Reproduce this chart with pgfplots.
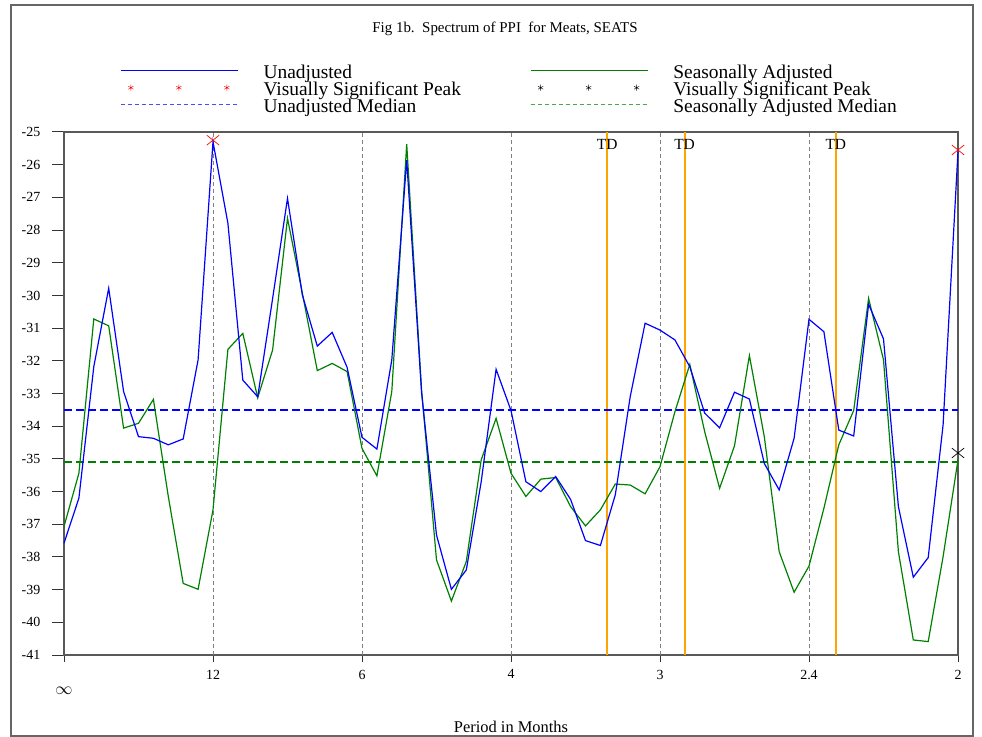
\documentclass[border=0pt]{standalone}
\usepackage{pgfplots}
\pgfplotsset{compat=1.18}
\usepackage{pgfplotstable}
\usepackage{fontspec}
\setmainfont{Liberation Serif}

\definecolor{tdorange}{RGB}{255,165,0}
\definecolor{sagreen}{RGB}{0,128,0}
\definecolor{uablue}{RGB}{0,0,255}

% spectrum, frequency index k = 0..60 (k/120 cycles per month)
\pgfplotstableread{
k   ua      sa
0   -37.58  -37.07
1   -36.20  -35.44
2   -32.18  -30.72
3   -29.78  -30.93
4   -32.94  -34.06
5   -34.32  -33.91
6   -34.37  -33.18
7   -34.57  -36.15
8   -34.39  -38.81
9   -31.97  -38.99
10  -25.30  -36.56
11  -27.79  -31.65
12  -32.59  -31.16
13  -33.10  -33.13
14  -30.10  -31.67
15  -27.03  -27.64
16  -29.99  -29.94
17  -31.55  -32.30
18  -31.13  -32.08
19  -32.20  -32.33
20  -34.34  -34.68
21  -34.70  -35.52
22  -31.97  -32.94
23  -25.86  -25.37
24  -32.98  -32.90
25  -37.33  -38.09
26  -38.99  -39.35
27  -38.40  -38.14
28  -35.70  -35.03
29  -32.26  -33.76
30  -33.52  -35.44
31  -35.70  -36.15
32  -36.00  -35.62
33  -35.54  -35.57
34  -36.24  -36.46
35  -37.50  -37.05
36  -37.65  -36.56
37  -36.10  -35.77
38  -33.10  -35.80
39  -30.85  -36.07
40  -31.06  -35.24
41  -31.36  -33.56
42  -32.18  -32.11
43  -33.60  -34.17
44  -34.05  -35.90
45  -32.96  -34.60
46  -33.17  -31.84
47  -35.14  -34.32
48  -35.95  -37.84
49  -34.37  -39.08
50  -30.73  -38.28
51  -31.11  -36.51
52  -34.12  -34.57
53  -34.30  -33.52
54  -30.27  -30.09
55  -31.33  -31.97
56  -36.46  -37.84
57  -38.62  -40.54
58  -38.02  -40.59
59  -33.96  -37.99
60  -25.60  -35.03
}\spec

\begin{document}
\begin{tikzpicture}
\path[use as bounding box] (0bp,0bp) rectangle (982bp,737bp);
\draw[black!60, line width=1.5bp] (11bp,1bp) rectangle (973bp,732bp);
\begin{axis}[
    at={(64bp,82bp)}, anchor=south west,
    scale only axis, width=894bp, height=523bp,
    xmin=0, xmax=60, ymin=-41, ymax=-25,
    clip=false,
    axis line style={black!65, line width=1.2bp},
    xtick={0,10,...,60},
    xticklabels={,12,6,4,3,2.4,2},
    ytick={-41,-40,...,-25},
    xtick pos=bottom, ytick pos=left,
    tick align=outside,
    xtick style={black!80, line width=1bp, /pgfplots/major tick length=7bp},
    ytick style={black!80, line width=1bp, /pgfplots/major tick length=12bp},
    ticklabel style={font=\fontsize{14}{14}\selectfont},
    yticklabel style={xshift=-16bp},
    xticklabel style={yshift=-7bp},
    /pgf/number format/assume math mode=true,
    title={Fig 1b.\ \ Spectrum of PPI\ \ for Meats, SEATS},
    title style={font=\fontsize{15}{15}\selectfont, at={(0.5,1)}, anchor=base, yshift=94bp, xshift=-6bp},
    xlabel={Period in Months},
    xlabel style={font=\fontsize{16.5}{16.5}\selectfont, at={(0.5,0)}, anchor=base, yshift=-77bp},
    legend columns=2,
    legend cell align=left,
    legend style={draw=none, fill=none, inner sep=0pt, at={(0.0626,1)}, anchor=north west, yshift=66.5bp,
        font=\fontsize{19.5}{17}\selectfont, row sep=0pt,
        nodes={inner sep=0pt, text height=12.5bp, text depth=4.5bp},
        /tikz/every odd column/.append style={column sep=25bp},
        /tikz/every even column/.append style={column sep=69bp}},
]
% legend entries
\addlegendimage{legend image code/.code={\draw[uablue, line width=1bp] (0bp,3.5bp) -- (117bp,3.5bp);}}
\addlegendentry{Unadjusted}
\addlegendimage{legend image code/.code={\draw[sagreen, line width=1bp] (0bp,3.5bp) -- (117bp,3.5bp);}}
\addlegendentry{Seasonally Adjusted}
\addlegendimage{legend image code/.code={\draw[red] plot[only marks, mark=asterisk, mark size=3bp] coordinates {(10bp,3.5bp) (58bp,3.5bp) (106bp,3.5bp)};}}
\addlegendentry{Visually Significant Peak}
\addlegendimage{legend image code/.code={\draw[black] plot[only marks, mark=asterisk, mark size=3bp] coordinates {(10bp,3.5bp) (58bp,3.5bp) (106bp,3.5bp)};}}
\addlegendentry{Visually Significant Peak}
\addlegendimage{legend image code/.code={\draw[uablue!70, line width=1.4bp, dash pattern=on 4bp off 3bp] (0bp,3.5bp) -- (117bp,3.5bp);}}
\addlegendentry{Unadjusted Median}
\addlegendimage{legend image code/.code={\draw[sagreen!70, line width=1.4bp, dash pattern=on 4bp off 3bp] (0bp,3.5bp) -- (117bp,3.5bp);}}
\addlegendentry{Seasonally Adjusted Median}

% seasonal frequency guides
\addplot[gray, line width=0.8bp, dash pattern=on 4bp off 3bp, forget plot] coordinates {(10,-41) (10,-25)};
\addplot[gray, line width=0.8bp, dash pattern=on 4bp off 3bp, forget plot] coordinates {(20,-41) (20,-25)};
\addplot[gray, line width=0.8bp, dash pattern=on 4bp off 3bp, forget plot] coordinates {(30,-41) (30,-25)};
\addplot[gray, line width=0.8bp, dash pattern=on 4bp off 3bp, forget plot] coordinates {(40,-41) (40,-25)};
\addplot[gray, line width=0.8bp, dash pattern=on 4bp off 3bp, forget plot] coordinates {(50,-41) (50,-25)};
% trading day frequencies
\addplot[draw=tdorange, line width=2bp, forget plot] coordinates {(36.45,-41) (36.45,-25)};
\addplot[draw=tdorange, line width=2bp, forget plot] coordinates {(41.65,-41) (41.65,-25)};
\addplot[draw=tdorange, line width=2bp, forget plot] coordinates {(51.8,-41) (51.8,-25)};
\node[font=\fontsize{15.5}{15.5}\selectfont, anchor=north, yshift=-4bp] at (axis cs:36.45,-25) {TD};
\node[font=\fontsize{15.5}{15.5}\selectfont, anchor=north, yshift=-4bp] at (axis cs:41.65,-25) {TD};
\node[font=\fontsize{15.5}{15.5}\selectfont, anchor=north, yshift=-4bp] at (axis cs:51.8,-25) {TD};

% medians
\addplot[draw=uablue, line width=2bp, dash pattern=on 8bp off 4bp, forget plot] coordinates {(0,-33.52) (60,-33.52)};
\addplot[draw=sagreen, line width=2bp, dash pattern=on 8bp off 4bp, forget plot] coordinates {(0,-35.1) (60,-35.1)};

% spectra
\addplot[draw=sagreen, line width=1.2bp, forget plot] table[x=k, y=sa] {\spec};
\addplot[draw=uablue, line width=1.2bp, forget plot] table[x=k, y=ua] {\spec};

% visually significant peaks
\addplot[red, only marks, mark=x, mark size=7bp, mark options={xscale=1.25, line width=0.7bp}, forget plot] coordinates {(10,-25.25) (60,-25.55)};
\addplot[black, only marks, mark=x, mark size=7bp, mark options={xscale=1.25, line width=0.7bp}, forget plot] coordinates {(60,-34.82)};

\node[font=\fontsize{18}{18}\selectfont, yshift=-36bp] at (axis cs:0,-41) {$\infty$};
\end{axis}
\end{tikzpicture}
\end{document}
